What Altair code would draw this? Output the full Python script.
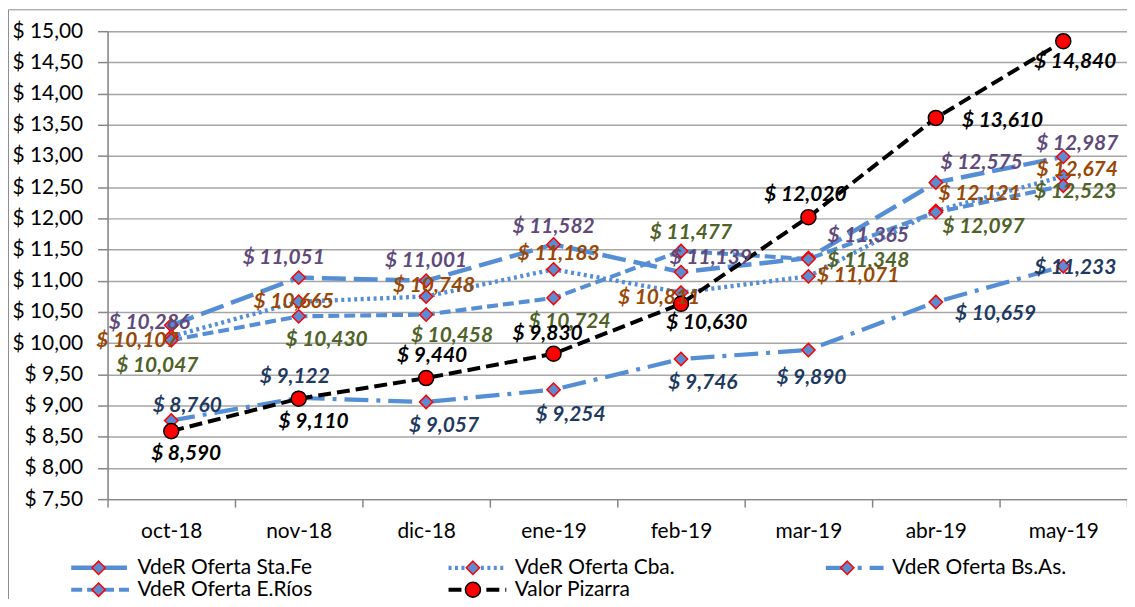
import altair as alt
import pandas as pd

# ---------------- data ----------------
months = ["oct-18", "nov-18", "dic-18", "ene-19", "feb-19", "mar-19", "abr-19", "may-19"]
series_names = ["VdeR Oferta Sta.Fe", "VdeR Oferta Cba.", "VdeR Oferta Bs.As.",
                "VdeR Oferta E.Ríos", "Valor Pizarra"]
sta_fe = [10.286, 11.051, 11.001, 11.582, 11.139, 11.365, 12.575, 12.987]
cba = [10.107, 10.665, 10.748, 11.183, 10.811, 11.071, 12.121, 12.674]
bs_as = [8.760, 9.122, 9.057, 9.254, 9.746, 9.890, 10.659, 11.233]
e_rios = [10.047, 10.430, 10.458, 10.724, 11.477, 11.348, 12.097, 12.523]
pizarra = [8.590, 9.110, 9.440, 9.830, 10.630, 12.020, 13.610, 14.840]
y_ticks = [7.5, 8.0, 8.5, 9.0, 9.5, 10.0, 10.5, 11.0, 11.5, 12.0, 12.5,
           13.0, 13.5, 14.0, 14.5, 15.0]

# ---------------- label placement (style, pixel offsets from the point) ----------------
off_sta_fe = [(-22, -2), (-15, -20), (0, -20), (0, -18), (30, -14), (60, -22), (46, -20), (14, -13)]
off_cba = [(-34, 5), (-5, 0), (8, -11), (5, -15), (-22, 5), (50, 0), (44, -17), (14, -6)]
off_bs_as = [(16, -15), (-4, -21), (18, 24), (17, 25), (22, 24), (3, 28), (60, 12), (12, 2)]
off_e_rios = [(-14, 26), (28, 24), (26, 22), (16, 24), (10, -18), (60, 2), (48, 15), (12, 6)]
off_pizarra = [(15, 23), (15, 23), (6, -22), (-6, -20), (26, 19), (-3, -22), (67, 3), (12, 21)]

label_colors = {
    "VdeR Oferta Sta.Fe": "#604A7B",
    "VdeR Oferta Cba.": "#984807",
    "VdeR Oferta Bs.As.": "#1F3A60",
    "VdeR Oferta E.Ríos": "#4F6228",
    "Valor Pizarra": "#000000",
}

PLOT_W, PLOT_H = 1024, 470
Y_MIN, Y_MAX = 7.5, 15.0
BAND = PLOT_W / len(months)
UNITS_PER_PX = (Y_MAX - Y_MIN) / PLOT_H

rows = []
for s, vals, offs in zip(series_names, [sta_fe, cba, bs_as, e_rios, pizarra],
                         [off_sta_fe, off_cba, off_bs_as, off_e_rios, off_pizarra]):
    for m, v, (dx, dy) in zip(months, vals, offs):
        rows.append({"series": s, "month": m, "value": v,
                     "xo": dx + BAND / 2, "ylab": v - dy * UNITS_PER_PX,
                     "lblcolor": label_colors[s]})
df = pd.DataFrame(rows)

FONT = "Lato"
blue = "#558ED5"
line_colors = [blue, blue, blue, blue, "#000000"]
dash_range = [[24, 8], [3, 3.5], [24, 8, 4, 8], [11, 5], [13, 6]]
width_range = [4.5, 4, 4.5, 4.5, 5]

diamond = "M-1,0M1,0M0,-0.23L0.23,0L0,0.23L-0.23,0Z"
circle = "M-1,0M1,0M0.26,0A0.26,0.26,0,1,1,-0.26,0A0.26,0.26,0,1,1,0.26,0Z"
shape_range = [diamond, diamond, diamond, diamond, circle]
fill_range = ["#5B8BD0", "#5B8BD0", "#5B8BD0", "#5B8BD0", "#FF0000"]
stroke_range = ["#FF0000", "#FF0000", "#FF0000", "#FF0000", "#000000"]
series_m_names = [s + "\u200b" for s in series_names]

SYM = 3364
common_legend = dict(orient="none", direction="horizontal", legendX=-39, legendY=528,
                     columns=3, gridAlign="all", columnPadding=134, rowPadding=0,
                     clipHeight=22, symbolSize=SYM, labelFont=FONT, labelFontSize=21,
                     labelColor="#000000", labelOffset=6, title=None, padding=0, labelLimit=400)
line_legend = alt.Legend(symbolType="stroke", symbolStrokeWidth=4, **common_legend)
point_legend = alt.Legend(symbolStrokeWidth=1.5, labelOpacity=0, symbolOpacity=1, **common_legend)

x_enc = alt.X("month:N", sort=months, bandPosition=0.5,
              scale=alt.Scale(type="band", domain=months, paddingInner=0, paddingOuter=0),
              axis=alt.Axis(title=None, labelAngle=0, tickBand="extent", ticks=True, tickSize=8,
                            tickColor="#868686", tickWidth=1.5, domainColor="#868686",
                            domainWidth=1.5, grid=False, labelFont=FONT, labelFontSize=21,
                            labelColor="#000000", labelPadding=14, labelOverlap=False))
y_scale = alt.Scale(domain=[Y_MIN, Y_MAX], nice=False, zero=False)
y_axis = alt.Axis(title=None, values=y_ticks,
                  labelExpr="'$ ' + replace(format(datum.value, '.2f'), '.', ',')",
                  grid=True, gridColor="#A6A6A6", gridWidth=1.5, tickSize=10,
                  tickColor="#868686", tickWidth=1.5, domainColor="#868686",
                  domainWidth=1.5, labelFont=FONT, labelFontSize=21,
                  labelColor="#000000", labelPadding=15, labelOverlap=False,
                  labelFlush=False)
y_enc = alt.Y("value:Q", scale=y_scale, axis=y_axis)

frame = alt.Chart(alt.Data(values=[{}])).mark_rect(filled=False, stroke="#8C8C8C", strokeWidth=1).encode(
    x=alt.value(-99.5), x2=alt.value(1200), y=alt.value(-21.5), y2=alt.value(700))

lines = alt.Chart(df).mark_line(strokeCap="butt").encode(
    x=x_enc, y=y_enc,
    color=alt.Color("series:N", scale=alt.Scale(domain=series_names, range=line_colors),
                    legend=line_legend),
    strokeDash=alt.StrokeDash("series:N", scale=alt.Scale(domain=series_names, range=dash_range),
                              legend=line_legend),
    strokeWidth=alt.StrokeWidth("series:N", scale=alt.Scale(domain=series_names, range=width_range),
                                legend=None),
)

points = alt.Chart(df).transform_calculate(series_m="datum.series + '\u200b'").mark_point(
    filled=True, size=SYM, strokeWidth=1.5, opacity=1).encode(
    x=x_enc, y=y_enc,
    shape=alt.Shape("series_m:N", scale=alt.Scale(domain=series_m_names, range=shape_range),
                    legend=point_legend),
    fill=alt.Fill("series_m:N", scale=alt.Scale(domain=series_m_names, range=fill_range),
                  legend=point_legend),
    stroke=alt.Stroke("series_m:N", scale=alt.Scale(domain=series_m_names, range=stroke_range),
                      legend=point_legend),
)

labels = alt.Chart(df).transform_calculate(
    label="'$ ' + replace(format(datum.value, '.3f'), '.', ',')").mark_text(
    font=FONT, fontSize=21, fontWeight="bold", fontStyle="italic", align="center",
    baseline="middle").encode(
    x=x_enc,
    y=alt.Y("ylab:Q", scale=y_scale, axis=y_axis),
    xOffset=alt.XOffset("xo:Q", scale=None),
    text="label:N",
    color=alt.Color("lblcolor:N", scale=None),
)

chart = alt.layer(frame, lines, points, labels).properties(
    width=PLOT_W, height=PLOT_H,
    autosize=alt.AutoSizeParams(type="none"),
    padding={"left": 100, "top": 22, "right": 0, "bottom": 99},
).configure_view(stroke=None).configure(background="white")

chart.save("out.html", embed_options={"renderer": "svg", "actions": False})
